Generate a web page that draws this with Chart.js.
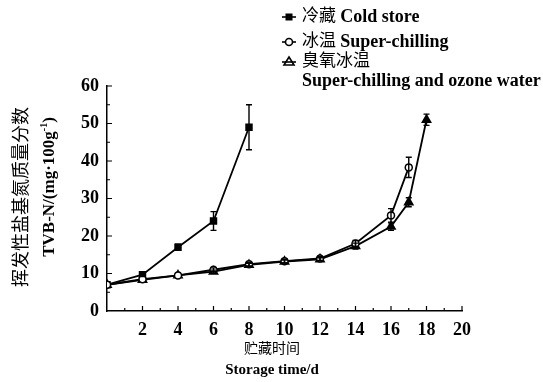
<!DOCTYPE html>
<html>
<head>
<meta charset="utf-8">
<title>TVB-N</title>
<script src="https://cdn.jsdelivr.net/npm/chart.js"></script>
<style>
  html, body { margin: 0; padding: 0; background: #fff; }
  #wrap { width: 543px; height: 382px; }
</style>
</head>
<body>
<div id="wrap"><canvas id="c" width="543" height="382"></canvas></div>
<script>
// data
const daysCold = [0, 2, 4, 6, 8];
const cold = [7, 9.7, 17, 24, 49];
const coldErr = [0, 0.5, 0.8, 2.5, 6];

const daysSuper = [0, 2, 4, 6, 8, 10, 12, 14, 16, 17];
const superChill = [7, 8.5, 9.5, 11, 12.5, 13.3, 14, 18, 25.5, 38.3];
const superErr = [0, 0, 0, 0.5, 0.5, 0.5, 0.5, 0.8, 1.8, 2.7];

const daysOzone = [0, 2, 4, 6, 8, 10, 12, 14, 16, 17, 18];
const ozone = [7, 8.3, 9.5, 10.5, 12.3, 13.2, 13.8, 17.3, 22.5, 29, 51];
const ozoneErr = [0, 0, 0, 0.4, 0.4, 0.4, 0.4, 0.8, 1, 1.2, 1.5];

const labelsCn = ['冷藏', '冰温', '臭氧冰温'];
const labelsEn = ['Cold store', 'Super-chilling', 'Super-chilling and ozone water'];
const xTicks = [2, 4, 6, 8, 10, 12, 14, 16, 18, 20];
const yTicks = [0, 10, 20, 30, 40, 50, 60];

const FONT = "'Liberation Serif', 'Noto Sans CJK SC', serif";

function pts(xs, ys) { return xs.map((x, i) => ({ x: x, y: ys[i] })); }

// error bars, ticks, titles and legend
const extras = {
  id: 'extras',
  afterDatasetsDraw(chart) {
    const ctx = chart.ctx;
    const xs = chart.scales.x, ys = chart.scales.y;
    const errs = [coldErr, superErr, ozoneErr];
    ctx.save();
    ctx.strokeStyle = '#000';
    ctx.lineWidth = 1.4;
    chart.data.datasets.forEach((ds, di) => {
      ds.data.forEach((p, i) => {
        const e = errs[di][i];
        if (!e) return;
        const px = xs.getPixelForValue(p.x);
        const t = ys.getPixelForValue(p.y + e), b = ys.getPixelForValue(p.y - e);
        ctx.beginPath();
        ctx.moveTo(px, t); ctx.lineTo(px, b);
        ctx.moveTo(px - 3, t); ctx.lineTo(px + 3, t);
        ctx.moveTo(px - 3, b); ctx.lineTo(px + 3, b);
        ctx.stroke();
      });
    });
    ctx.restore();
  },
  afterDraw(chart) {
    const ctx = chart.ctx;
    const xs = chart.scales.x, ys = chart.scales.y;
    const a = chart.chartArea;
    ctx.save();
    ctx.strokeStyle = '#000';
    ctx.lineWidth = 1.2;
    // inward ticks
    ctx.beginPath();
    for (let v = 5; v <= 60; v += 5) {
      const py = ys.getPixelForValue(v);
      ctx.moveTo(a.left, py); ctx.lineTo(a.left + (v % 10 ? 3 : 5), py);
    }
    for (let v = 1; v <= 20; v++) {
      const px = xs.getPixelForValue(v);
      ctx.moveTo(px, a.bottom); ctx.lineTo(px, a.bottom - (v % 2 ? 3 : 5));
    }
    ctx.stroke();

    ctx.fillStyle = '#000';
    ctx.textAlign = 'center';
    ctx.textBaseline = 'middle';
    // x title
    ctx.font = '14px ' + FONT;
    ctx.fillText('贮藏时间', 272, 349);
    ctx.font = 'bold 15px ' + FONT;
    ctx.fillText('Storage time/d', 272, 370);
    // y title
    ctx.save();
    ctx.translate(22, 197);
    ctx.rotate(-Math.PI / 2);
    ctx.font = '18px ' + FONT;
    ctx.fillText('挥发性盐基氮质量分数', 0, 0);
    ctx.restore();
    ctx.save();
    ctx.translate(50, 187);
    ctx.rotate(-Math.PI / 2);
    const s1 = 'TVB-N/(mg·100g', s2 = '-1', s3 = ')';
    ctx.font = 'bold 17px ' + FONT;
    const w1 = ctx.measureText(s1).width, w3 = ctx.measureText(s3).width;
    ctx.font = 'bold 10px ' + FONT;
    const w2 = ctx.measureText(s2).width;
    let x0 = -(w1 + w2 + w3) / 2;
    ctx.textAlign = 'left';
    ctx.font = 'bold 17px ' + FONT;
    ctx.fillText(s1, x0, 0);
    ctx.font = 'bold 10px ' + FONT;
    ctx.fillText(s2, x0 + w1, -6);
    ctx.font = 'bold 17px ' + FONT;
    ctx.fillText(s3, x0 + w1 + w2, 0);
    ctx.restore();

    // legend
    const rows = [17, 42, 62];
    ctx.textAlign = 'left';
    ctx.lineWidth = 1.6;
    rows.forEach((ry, i) => {
      ctx.beginPath();
      ctx.moveTo(282, ry); ctx.lineTo(296, ry);
      ctx.stroke();
      const mx = 289;
      ctx.beginPath();
      if (i === 0) {
        ctx.fillRect(mx - 3.5, ry - 3.5, 7, 7);
      } else if (i === 1) {
        ctx.arc(mx, ry, 3.5, 0, Math.PI * 2);
        ctx.fillStyle = '#fff'; ctx.fill(); ctx.stroke();
        ctx.fillStyle = '#000';
      } else {
        ctx.moveTo(mx, ry - 5); ctx.lineTo(mx + 5, ry + 3); ctx.lineTo(mx - 5, ry + 3); ctx.closePath();
        ctx.stroke();
      }
      ctx.font = '17px ' + FONT;
      ctx.fillText(labelsCn[i], 302, ry);
      const wc = ctx.measureText(labelsCn[i] + ' ').width;
      if (i < 2) {
        ctx.font = 'bold 18px ' + FONT;
        ctx.fillText(labelsEn[i], 302 + wc, ry);
      }
    });
    ctx.font = 'bold 18px ' + FONT;
    ctx.fillText(labelsEn[2], 302, 81);
    ctx.restore();
  }
};

new Chart(document.getElementById('c'), {
  type: 'line',
  data: {
    datasets: [
      { label: labelsCn[0] + ' ' + labelsEn[0], data: pts(daysCold, cold),
        borderColor: '#000', backgroundColor: '#000', borderWidth: 1.8,
        pointStyle: 'rect', pointRadius: 4, order: 1 },
      { label: labelsCn[1] + ' ' + labelsEn[1], data: pts(daysSuper, superChill),
        borderColor: '#000', backgroundColor: '#fff', borderWidth: 1.8,
        pointStyle: 'circle', pointRadius: 3.5, pointBorderWidth: 1.5, order: 0 },
      { label: labelsCn[2] + ' ' + labelsEn[2], data: pts(daysOzone, ozone),
        borderColor: '#000', backgroundColor: '#000', borderWidth: 1.8,
        pointStyle: 'triangle', pointRadius: 4.5, order: 2 }
    ]
  },
  options: {
    responsive: false,
    animation: false,
    events: [],
    layout: { padding: { left: 0, right: 81, top: 86, bottom: 0 } },
    plugins: { legend: { display: false }, tooltip: { enabled: false } },
    scales: {
      x: {
        type: 'linear', min: 0, max: 20,
        afterFit(s) { s.height = 71; },
        afterBuildTicks(s) { s.ticks = xTicks.map(v => ({ value: v })); },
        grid: { display: false, drawTicks: false },
        border: { display: true, color: '#000', width: 1.5 },
        ticks: { color: '#000', padding: 9, font: { family: FONT, size: 18, weight: 'bold' } }
      },
      y: {
        min: 0, max: 60,
        afterFit(s) { s.width = 107; },
        afterBuildTicks(s) { s.ticks = yTicks.map(v => ({ value: v })); },
        grid: { display: false, drawTicks: false },
        border: { display: true, color: '#000', width: 1.5 },
        ticks: { color: '#000', padding: 8, font: { family: FONT, size: 18, weight: 'bold' } }
      }
    }
  },
  plugins: [extras]
});
</script>
</body>
</html>
